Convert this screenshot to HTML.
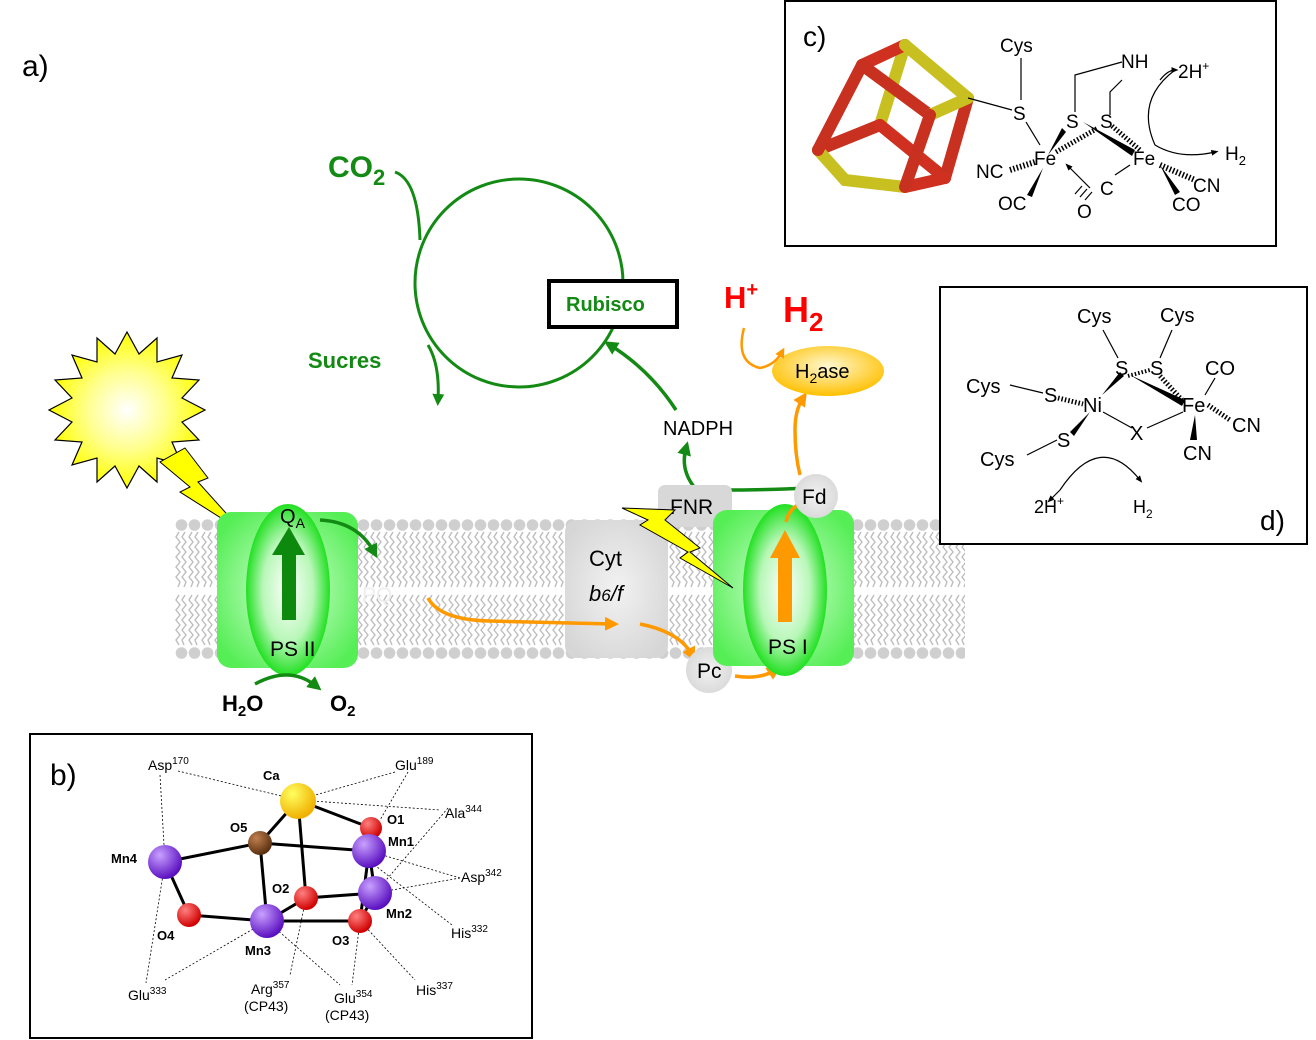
<!DOCTYPE html>
<html><head><meta charset="utf-8"><style>
html,body{margin:0;padding:0;background:#fff}
svg{display:block}
text{font-family:"Liberation Sans",sans-serif}
</style></head><body>
<svg width="1316" height="1040" viewBox="0 0 1316 1040" xmlns="http://www.w3.org/2000/svg">
<defs>
<pattern id="top" x="175" y="515" width="13" height="80" patternUnits="userSpaceOnUse">
<circle cx="6.5" cy="10" r="5.8" fill="#cfcfcf"/>
<polyline points="4,17 1,22 5,27 1,32 5,37 1,42 5,47 1,52 5,57 1,62 5,67 3,72" fill="none" stroke="#bdbdbd" stroke-width="1.4"/>
<polyline points="10,17 7,22 11,27 7,32 11,37 7,42 11,47 7,52 11,57 7,62 11,67 9,72" fill="none" stroke="#bdbdbd" stroke-width="1.4"/>
</pattern>
<pattern id="bot" x="175" y="593" width="13" height="70" patternUnits="userSpaceOnUse">
<polyline points="4,2 1,7 5,12 1,17 5,22 1,27 5,32 1,37 5,42 1,47 4,52" fill="none" stroke="#bdbdbd" stroke-width="1.4"/>
<polyline points="10,2 7,7 11,12 7,17 11,22 7,27 11,32 7,37 11,42 7,47 9,52" fill="none" stroke="#bdbdbd" stroke-width="1.4"/>
<circle cx="6.5" cy="60" r="5.8" fill="#cfcfcf"/>
</pattern>
<radialGradient id="gEll" cx="50%" cy="50%" r="50%"><stop offset="0" stop-color="#fff"/><stop offset="0.6" stop-color="#b8f7b8"/><stop offset="1" stop-color="#22e022"/></radialGradient>
<radialGradient id="gBox" cx="50%" cy="50%" r="60%"><stop offset="0" stop-color="#d8ffd8"/><stop offset="1" stop-color="#55ee55"/></radialGradient>
<radialGradient id="gSun" cx="50%" cy="50%" r="50%"><stop offset="0" stop-color="#fff"/><stop offset="0.5" stop-color="#ffff90"/><stop offset="1" stop-color="#ffff00"/></radialGradient>
<radialGradient id="gH2" cx="50%" cy="40%" r="60%"><stop offset="0" stop-color="#fff8d0"/><stop offset="1" stop-color="#ffc000"/></radialGradient>
<radialGradient id="gGray" cx="50%" cy="50%" r="60%"><stop offset="0" stop-color="#f2f2f2"/><stop offset="1" stop-color="#d6d6d6"/></radialGradient>
<radialGradient id="pur" cx="35%" cy="30%" r="70%"><stop offset="0" stop-color="#c9a0ff"/><stop offset="1" stop-color="#5a10c0"/></radialGradient>
<radialGradient id="red" cx="35%" cy="30%" r="70%"><stop offset="0" stop-color="#ff8080"/><stop offset="1" stop-color="#d00000"/></radialGradient>
<radialGradient id="yel" cx="35%" cy="30%" r="70%"><stop offset="0" stop-color="#ffff60"/><stop offset="1" stop-color="#f0b000"/></radialGradient>
<radialGradient id="brn" cx="35%" cy="30%" r="70%"><stop offset="0" stop-color="#c08050"/><stop offset="1" stop-color="#5a3010"/></radialGradient>
<marker id="ag" viewBox="0 0 10 10" refX="5" refY="5" markerWidth="4" markerHeight="4" orient="auto"><path d="M0,0 L10,5 L0,10 z" fill="#138a13"/></marker>
<marker id="ao" viewBox="0 0 10 10" refX="5" refY="5" markerWidth="4" markerHeight="4" orient="auto"><path d="M0,0 L10,5 L0,10 z" fill="#ff9900"/></marker>
<marker id="ak" viewBox="0 0 10 10" refX="5" refY="5" markerWidth="6" markerHeight="6" orient="auto"><path d="M0,1 L10,5 L0,9 z" fill="#000"/></marker>
</defs>

<text x="22" y="76" font-size="30">a)</text>

<!-- membrane -->
<rect x="175" y="515" width="790" height="80" fill="url(#top)"/>
<rect x="175" y="593" width="790" height="70" fill="url(#bot)"/>

<!-- Calvin cycle -->
<circle cx="519" cy="283" r="104" fill="none" stroke="#138a13" stroke-width="3"/>
<path d="M428,345 Q440,365 438,400" fill="none" stroke="#138a13" stroke-width="3" marker-end="url(#ag)"/>
<path d="M395,172 Q418,180 420,240" fill="none" stroke="#138a13" stroke-width="3"/>
<text x="328" y="177" font-size="30" font-weight="bold" fill="#138a13">CO<tspan font-size="22" dy="8">2</tspan></text>
<text x="308" y="368" font-size="22" font-weight="bold" fill="#138a13">Sucres</text>
<rect x="549" y="281" width="128" height="46" fill="#fff" stroke="#000" stroke-width="4"/>
<text x="566" y="311" font-size="20" font-weight="bold" fill="#138a13">Rubisco</text>
<path d="M676,410 Q650,370 610,345" fill="none" stroke="#138a13" stroke-width="3.5" marker-end="url(#ag)"/>
<text x="663" y="435" font-size="20">NADPH</text>
<path d="M810,488 Q720,492 695,488 Q680,470 686,448" fill="none" stroke="#138a13" stroke-width="3.5" marker-end="url(#ag)"/>

<!-- sun -->
<g transform="translate(127,410)">
<polygon fill="url(#gSun)" stroke="#000" stroke-width="1.2" points="0,-78 12,-56 30,-72 30,-48 55,-55 45,-32 72,-30 55,-12 78,0 55,12 72,30 45,32 55,55 30,48 30,72 12,56 0,78 -12,56 -30,72 -30,48 -55,55 -45,32 -72,30 -55,12 -78,0 -55,-12 -72,-30 -45,-32 -55,-55 -30,-48 -30,-72 -12,-56"/>
</g>
<polygon points="185,448 208,478 198,482 243,532 180,492 190,487 160,462" fill="#ffff00" stroke="#000" stroke-width="1"/>

<!-- PSII -->
<rect x="217" y="512" width="141" height="156" rx="14" fill="url(#gBox)"/>
<ellipse cx="288" cy="590" rx="42" ry="86" fill="url(#gEll)"/>
<polygon points="282,620 296,620 296,555 305,555 289,527 272,555 282,555" fill="#0d8a0d"/>
<text x="280" y="523" font-size="20">Q<tspan font-size="14" dy="5">A</tspan></text>
<text x="270" y="656" font-size="21">PS II</text>
<path d="M320,520 Q358,522 374,552" fill="none" stroke="#138a13" stroke-width="3.5" marker-end="url(#ag)"/>
<text x="362" y="602" font-size="21" fill="#eee">PQ</text>
<path d="M255,684 Q290,665 316,686" fill="none" stroke="#138a13" stroke-width="3.5" marker-end="url(#ag)"/>
<text x="222" y="711" font-size="22" font-weight="bold">H<tspan font-size="15" dy="5">2</tspan><tspan dy="-5">O</tspan></text>
<text x="330" y="711" font-size="22" font-weight="bold">O<tspan font-size="15" dy="5">2</tspan></text>

<!-- Cyt b6f -->
<rect x="565" y="520" width="103" height="138" rx="12" fill="url(#gGray)"/>
<text x="589" y="566" font-size="22">Cyt</text>
<text x="589" y="601" font-size="22" font-style="italic">b<tspan font-size="17">6</tspan>/f</text>
<path d="M428,598 Q440,620 490,621 L612,624" fill="none" stroke="#ff9900" stroke-width="3.5" marker-end="url(#ao)"/>
<path d="M640,624 Q680,632 692,655" fill="none" stroke="#ff9900" stroke-width="3.5" marker-end="url(#ao)"/>
<circle cx="709" cy="670" r="23" fill="url(#gGray)"/>
<text x="697" y="678" font-size="21">Pc</text>
<path d="M735,676 Q760,680 775,670" fill="none" stroke="#ff9900" stroke-width="3.5" marker-end="url(#ao)"/>

<!-- FNR -->
<rect x="658" y="485" width="74" height="42" rx="7" fill="#d8d8d8"/>
<text x="670" y="514" font-size="21">FNR</text>

<!-- PSI -->
<rect x="713" y="510" width="141" height="156" rx="14" fill="url(#gBox)"/>
<ellipse cx="785" cy="590" rx="42" ry="86" fill="url(#gEll)"/>
<polygon points="778,622 792,622 792,558 800,558 785,530 770,558 778,558" fill="#ff9900"/>
<text x="768" y="654" font-size="21">PS I</text>
<polygon points="622,508 675,510 665,520 700,548 690,552 733,588 680,558 688,552 640,525 648,520" fill="#ffff00" stroke="#000" stroke-width="1"/>
<path d="M786,522 Q790,505 805,503" fill="none" stroke="#ff9900" stroke-width="3.5" marker-end="url(#ao)"/>
<circle cx="816" cy="496" r="22" fill="url(#gGray)"/>
<text x="802" y="504" font-size="21">Fd</text>
<path d="M800,475 Q795,455 795,430 Q795,410 803,398" fill="none" stroke="#ff9900" stroke-width="3.5" marker-end="url(#ao)"/>
<ellipse cx="828" cy="371" rx="56" ry="25" fill="url(#gH2)"/>
<text x="795" y="378" font-size="20">H<tspan font-size="14" dy="5">2</tspan><tspan dy="-5">ase</tspan></text>
<path d="M744,328 Q735,362 760,368 Q775,365 782,352" fill="none" stroke="#ff9900" stroke-width="2.5" marker-end="url(#ao)"/>
<text x="724" y="308" font-size="31" font-weight="bold" fill="#ff0000">H<tspan font-size="20" dy="-12">+</tspan></text>
<text x="783" y="322" font-size="36" font-weight="bold" fill="#ff0000">H<tspan font-size="26" dy="9">2</tspan></text>

<!-- panel c -->
<rect x="785" y="1" width="491" height="245" fill="#fff" stroke="#000" stroke-width="2"/>
<text x="803" y="46" font-size="28">c)</text>
<g stroke-width="12" stroke-linecap="round" fill="none">
<!-- back edges -->
<path d="M880,125 L905,45" stroke="#c8c020"/>
<path d="M880,125 L818,150" stroke="#c83020"/>
<path d="M880,125 L945,178" stroke="#d03020"/>
<!-- hexagon outline -->
<path d="M862,65 L905,45" stroke="#d03020"/>
<path d="M905,45 L968,98" stroke="#c8c020"/>
<path d="M968,98 L945,178" stroke="#c83020"/>
<path d="M945,178 L905,187" stroke="#d03020"/>
<path d="M905,187 L845,180 L818,150" stroke="#c8c020"/>
<path d="M818,150 L862,65" stroke="#c83020"/>
<!-- front vertex -->
<path d="M930,115 L862,65" stroke="#c83020"/>
<path d="M930,115 L968,98" stroke="#c8c020"/>
<path d="M930,115 L905,187" stroke="#c83020"/>
</g>
<g stroke="#000" stroke-width="1.2" fill="none">
<line x1="968" y1="98" x2="1012" y2="110"/>
<line x1="1021" y1="58" x2="1021" y2="100"/>
<line x1="1026" y1="122" x2="1040" y2="145"/>
<path d="M1075,112 L1075,75 L1122,62"/>
<path d="M1110,115 L1110,92 L1122,80"/>
<line x1="1092" y1="192" x2="1085" y2="200"/>
<line x1="1087" y1="189" x2="1080" y2="197"/>
<line x1="1082" y1="186" x2="1075" y2="194"/>
<line x1="1115" y1="175" x2="1130" y2="165"/>
<path d="M1175,70 Q1135,100 1155,145 Q1180,160 1215,152" marker-end="url(#ak)"/>
<path d="M1160,80 Q1168,70 1175,70" marker-end="url(#ak)"/>
<line x1="1090" y1="188" x2="1068" y2="166" marker-end="url(#ak)"/>
</g>
<g stroke="#000" stroke-width="1.2" stroke-dasharray="1.5,2">
<line x1="1010" y1="170" x2="1035" y2="162" stroke-width="6"/>
<line x1="1056" y1="152" x2="1098" y2="128" stroke-width="5"/>
<line x1="1112" y1="126" x2="1140" y2="150" stroke-width="5"/>
<line x1="1160" y1="165" x2="1195" y2="180" stroke-width="6"/>
</g>
<polygon points="1048,155 1062,128 1066,132" fill="#000"/>
<polygon points="1043,168 1027,195 1032,197" fill="#000"/>
<polygon points="1083,122 1135,150 1132,156" fill="#000"/>
<polygon points="1160,165 1175,195 1180,192" fill="#000"/>
<g font-size="19">
<text x="1000" y="52">Cys</text><text x="1121" y="68">NH</text>
<text x="1178" y="78">2H<tspan font-size="12" dy="-8">+</tspan></text>
<text x="1013" y="120">S</text><text x="1066" y="128">S</text><text x="1100" y="128">S</text>
<text x="1034" y="165">Fe</text><text x="1133" y="165">Fe</text>
<text x="976" y="178">NC</text><text x="998" y="210">OC</text>
<text x="1100" y="195">C</text><text x="1077" y="218">O</text>
<text x="1193" y="192">CN</text><text x="1172" y="211">CO</text>
<text x="1225" y="160">H<tspan font-size="13" dy="5">2</tspan></text>
</g>

<!-- panel d -->
<rect x="940" y="287" width="367" height="257" fill="#fff" stroke="#000" stroke-width="2"/>
<text x="1260" y="530" font-size="28">d)</text>
<g stroke="#000" stroke-width="1.2" fill="none">
<line x1="1103" y1="330" x2="1118" y2="358"/>
<line x1="1172" y1="330" x2="1160" y2="358"/>
<line x1="1010" y1="385" x2="1043" y2="393"/>
<line x1="1027" y1="455" x2="1057" y2="440"/>
<line x1="1103" y1="412" x2="1132" y2="428"/>
<line x1="1147" y1="428" x2="1183" y2="412"/>
<path d="M1060,490 Q1100,430 1140,480" marker-end="url(#ak)"/>
<path d="M1060,490 Q1055,495 1050,500" marker-end="url(#ak)"/>
</g>
<g stroke="#000" stroke-dasharray="1.5,2">
<line x1="1058" y1="398" x2="1083" y2="404" stroke-width="5"/>
<line x1="1128" y1="376" x2="1150" y2="370" stroke-width="4"/>
<line x1="1160" y1="376" x2="1182" y2="400" stroke-width="5"/>
<line x1="1208" y1="405" x2="1230" y2="420" stroke-width="5"/>
</g>
<polygon points="1102,395 1120,372 1124,376" fill="#000"/>
<polygon points="1090,412 1070,432 1074,436" fill="#000"/>
<polygon points="1130,375 1185,400 1182,406" fill="#000"/>
<polygon points="1195,415 1190,440 1197,440" fill="#000"/>
<line x1="1205" y1="395" x2="1215" y2="378" stroke="#000" stroke-width="1.2"/>
<g font-size="20">
<text x="1077" y="323">Cys</text><text x="1160" y="322">Cys</text>
<text x="966" y="393">Cys</text><text x="980" y="466">Cys</text>
<text x="1115" y="375">S</text><text x="1150" y="375">S</text>
<text x="1044" y="402">S</text><text x="1057" y="447">S</text>
<text x="1083" y="412">Ni</text><text x="1182" y="412">Fe</text>
<text x="1130" y="440">X</text>
<text x="1205" y="375">CO</text><text x="1232" y="432">CN</text><text x="1183" y="460">CN</text>
<text x="1034" y="513" font-size="18">2H<tspan font-size="12" dy="-8">+</tspan></text>
<text x="1133" y="513" font-size="18">H<tspan font-size="12" dy="5">2</tspan></text>
</g>

<!-- panel b -->
<rect x="30" y="734" width="502" height="304" fill="#fff" stroke="#000" stroke-width="2"/>
<text x="50" y="785" font-size="30">b)</text>
<g stroke="#000" stroke-width="0.8" stroke-dasharray="2,2" fill="none">
<path d="M178,771 L298,800 M160,775 L165,862 L146,983 M395,772 L298,800 L440,810 M408,772 L380,820 M448,808 L375,893 M460,878 L369,851 M460,878 L375,893 M368,860 L452,925 M360,921 L415,980 M360,921 L352,985 M267,921 L165,980 M267,921 L340,985 M306,898 L290,975"/>
</g>
<g stroke="#000" stroke-width="3" fill="none">
<path d="M165,862 L260,843 L369,851 M260,843 L298,800 L371,828 M298,800 L306,898 M260,843 L267,921 M165,862 L189,915 L267,921 L306,898 L375,893 M267,921 L360,921 L375,893 M369,851 L375,893 M369,851 L360,921"/>
</g>
<circle cx="298" cy="801" r="18" fill="url(#yel)"/>
<circle cx="371" cy="828" r="11" fill="url(#red)"/>
<circle cx="260" cy="843" r="12" fill="url(#brn)"/>
<circle cx="165" cy="862" r="17" fill="url(#pur)"/>
<circle cx="369" cy="851" r="17" fill="url(#pur)"/>
<circle cx="375" cy="893" r="17" fill="url(#pur)"/>
<circle cx="306" cy="898" r="12" fill="url(#red)"/>
<circle cx="189" cy="915" r="12" fill="url(#red)"/>
<circle cx="267" cy="921" r="17" fill="url(#pur)"/>
<circle cx="360" cy="921" r="12" fill="url(#red)"/>
<g font-size="13" font-weight="bold">
<text x="263" y="780">Ca</text><text x="230" y="832">O5</text><text x="387" y="824">O1</text>
<text x="111" y="863">Mn4</text><text x="388" y="846">Mn1</text><text x="272" y="893">O2</text>
<text x="386" y="918">Mn2</text><text x="157" y="940">O4</text><text x="332" y="945">O3</text><text x="245" y="955">Mn3</text>
</g>
<g font-size="14">
<text x="148" y="770">Asp<tspan font-size="10" dy="-6">170</tspan></text>
<text x="395" y="770">Glu<tspan font-size="10" dy="-6">189</tspan></text>
<text x="445" y="818">Ala<tspan font-size="10" dy="-6">344</tspan></text>
<text x="461" y="882">Asp<tspan font-size="10" dy="-6">342</tspan></text>
<text x="451" y="938">His<tspan font-size="10" dy="-6">332</tspan></text>
<text x="416" y="995">His<tspan font-size="10" dy="-6">337</tspan></text>
<text x="128" y="1000">Glu<tspan font-size="10" dy="-6">333</tspan></text>
<text x="251" y="994">Arg<tspan font-size="10" dy="-6">357</tspan></text>
<text x="244" y="1011">(CP43)</text>
<text x="334" y="1003">Glu<tspan font-size="10" dy="-6">354</tspan></text>
<text x="325" y="1020">(CP43)</text>
</g>
</svg>
</body></html>
